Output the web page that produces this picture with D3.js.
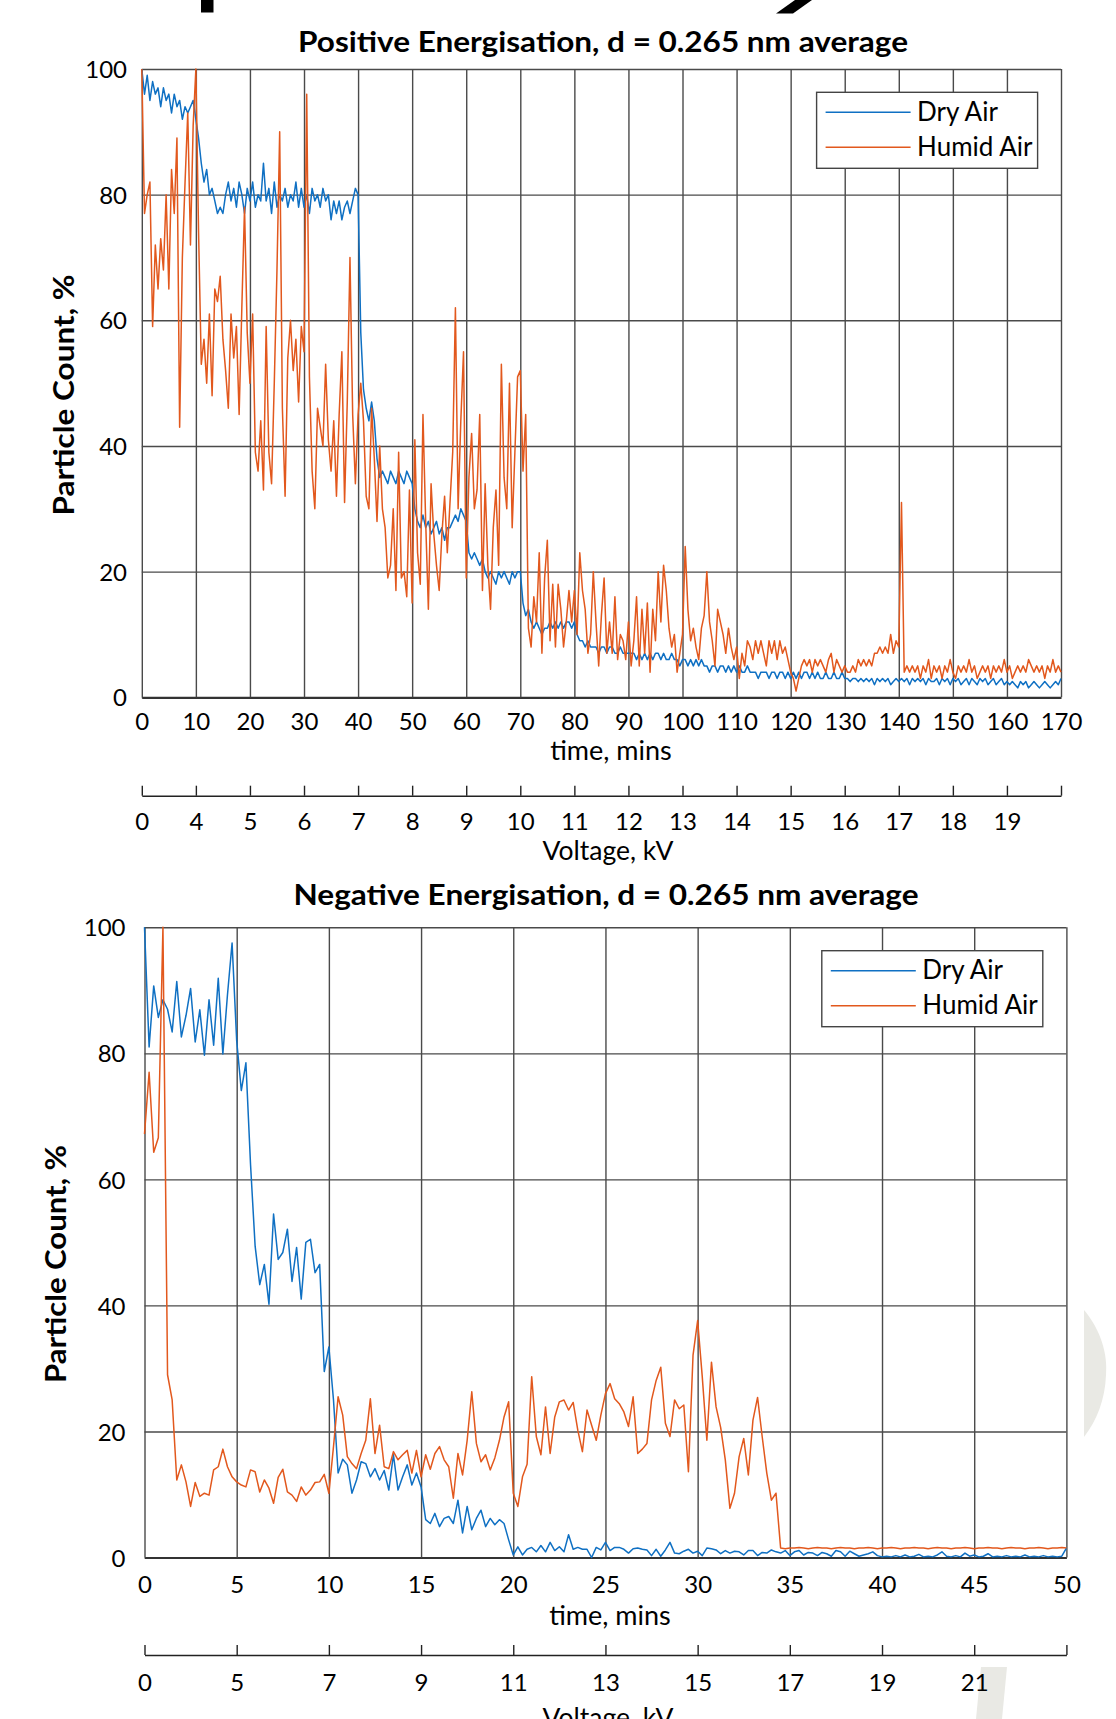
<!DOCTYPE html>
<html>
<head>
<meta charset="utf-8">
<script src="https://cdn.jsdelivr.net/npm/d3@7"></script>
<style>
  body { margin: 0; background: #fff; }
  svg text { font-family: Lato, "Open Sans", sans-serif; fill: #000; }
</style>
</head>
<body>
<svg id="vis" width="1116" height="1719"></svg>
<script>
// ---- data ----
// positive energisation, one sample every 0.5 min from 0 to 170
const posStep = 0.5
const posDry = [
  100, 96, 99, 95, 98, 96, 97, 94, 97, 95, 96, 93, 96, 94, 95, 92, 94, 93, 94, 95,
  92, 89, 85, 82, 84, 80, 81, 79, 77, 78, 77, 80, 82, 79, 81, 78, 82, 80, 77, 81,
  79, 82, 78, 80, 79, 85, 79, 81, 77, 82, 78, 80, 79, 81, 78, 80, 79, 82, 78, 81,
  78, 80, 77, 81, 79, 80, 78, 81, 79, 80, 76, 79, 77, 79, 76, 78, 79, 77, 79, 81,
  80, 58, 49, 46, 44, 47, 44, 38, 35, 36, 35, 34, 36, 35, 34, 36, 35, 34, 36, 35,
  34, 30, 28, 27, 29, 27, 28, 26, 27, 28, 26, 27, 25, 27, 27, 28, 29, 28, 30, 29,
  28, 23, 22, 23, 22, 21, 22, 20, 19, 20, 19, 18, 20, 19, 20, 19, 18, 20, 19, 20,
  20, 15, 13, 14, 12, 11, 12, 11, 10, 11, 11, 12, 11, 12, 11, 12, 11, 12, 12, 11,
  12, 10, 9, 9, 8, 9, 8, 8, 8, 7, 8, 8, 7, 8, 8, 7, 7, 8, 7, 7,
  7, 7, 7, 6, 7, 6, 7, 6, 7, 6, 7, 7, 6, 7, 6, 6, 7, 6, 6, 5,
  6, 6, 5, 6, 5, 6, 5, 6, 5, 5, 4, 5, 5, 4, 5, 5, 4, 5, 4, 5,
  4, 5, 4, 4, 5, 4, 4, 4, 3, 4, 4, 4, 3, 4, 4, 3, 4, 4, 3, 4,
  3, 4, 3, 4, 3, 4, 4, 3, 4, 3, 4, 3, 3, 4, 3, 3, 4, 3, 3, 4,
  3, 3, 2.5, 3, 3, 2.5, 3, 2.5, 3, 2.5, 3, 2, 3, 2.5, 3, 2.5, 3, 2, 2.5, 3,
  2.5, 3, 2.5, 3, 2, 3, 2.5, 3, 2.5, 3, 2, 3, 2.5, 2.5, 3, 2, 3, 2.5, 3, 2,
  3, 2.5, 3, 2, 2.5, 3, 2, 3, 2.5, 2, 3, 2.5, 3, 2, 2.5, 3, 2, 2.5, 3, 2,
  2.5, 2, 2.5, 2, 1.5, 2.5, 2, 2.5, 1.5, 2, 2.5, 2, 1.5, 2, 2.5, 2, 1.5, 2, 2.5, 2,
  3
]
const posHumid = [
  100, 77, 80, 82, 59, 72, 65, 73, 68, 80, 65, 84, 77, 89, 43, 70, 82, 93, 72, 91,
  100, 74, 53, 57, 50, 61, 48, 65, 63, 67, 57, 52, 46, 61, 54, 59, 45, 62, 78, 58,
  50, 61, 39, 36, 44, 33, 59, 39, 34, 50, 68, 90, 46, 32, 54, 60, 52, 57, 47, 59,
  55, 96, 51, 36, 30, 46, 43, 40, 53, 41, 36, 44, 32, 45, 55, 31, 47, 70, 45, 34,
  45, 50, 44, 32, 30, 46, 38, 28, 40, 30, 27, 19, 21, 30, 17, 39, 19, 20, 16, 33,
  15, 41, 23, 18, 45, 28, 14, 34, 26, 21, 17, 26, 32, 23, 31, 39, 62, 30, 44, 55,
  19, 35, 42, 30, 33, 45, 17, 34, 21, 14, 27, 33, 21, 53, 35, 30, 50, 27, 39, 51,
  52, 36, 45, 11, 8, 16, 12, 23, 7, 19, 25, 9, 18, 8, 18, 14, 8, 12, 17, 12,
  17, 10, 23, 17, 14, 7, 10, 20, 12, 5, 13, 19, 7, 12, 7, 16, 6, 10, 9, 6,
  12, 5, 9, 16, 5, 14, 7, 15, 4, 14, 9, 20, 12, 21, 17, 11, 8, 10, 4, 7,
  10, 24, 14, 9, 11, 8, 6, 11, 13, 20, 12, 9, 5, 14, 12, 10, 7, 11, 8, 6,
  8, 3, 7, 5, 9, 8, 6, 9, 7, 9, 7, 5, 9, 7, 9, 6, 9, 7, 8, 6,
  4, 3, 1, 3, 5, 6, 5, 6, 4, 6, 5, 6, 5, 4, 6, 7, 4, 6, 5, 4,
  5, 4, 4, 5, 4, 6, 5, 6, 5, 6, 5, 7, 7, 8, 7, 8, 7, 10, 7, 9,
  8, 31, 4, 5, 4, 5, 4, 5, 3, 5, 4, 6, 3, 5, 4, 5, 3, 5, 4, 6,
  4, 3, 5, 4, 5, 4, 6, 4, 5, 3, 4, 5, 4, 5, 3, 5, 4, 5, 4, 6,
  4, 5, 3, 4, 5, 4, 5, 4, 6, 5, 4, 5, 4, 5, 3, 5, 4, 6, 4, 5,
  4
]

// negative energisation, one sample every 0.25 min from 0 to 50
const negStep = 0.25
const negDry = [
  100, 81, 90.7, 85.7, 88.5, 87, 83.4, 91.4, 82.6, 86, 90.3, 81.8, 86.9, 79.7, 88.5, 81.3, 91.9, 79.9, 89.3, 97.5,
  82, 74.1, 78.5, 62.4, 49.4, 43.3, 46.5, 40.2, 54.5, 47.3, 48.4, 52.1, 43.8, 49.2, 41, 50, 50.5, 45.2, 46.5, 29.5,
  33.4, 25, 13.4, 15.6, 14.7, 10.2, 12.3, 15.2, 14.9, 12.8, 14.1, 12.3, 13.8, 10.7, 16.3, 10.7, 12.8, 14.7, 11.5, 13.4,
  11.2, 6, 5.4, 7, 4.9, 6.2, 6.5, 5.4, 9.1, 3.9, 8.1, 4.4, 6.2, 7.5, 4.9, 6.2, 5.2, 6, 5.4, 2.8,
  0.4, 1.7, 0.4, 1.3, 1.6, 0.9, 1.9, 0.9, 2.4, 1.1, 1.7, 0.9, 3.6, 1.3, 1.6, 1.3, 1.3, 0, 1.6, 1.2,
  2.4, 1.1, 1.6, 1.6, 1.3, 0.7, 1.4, 1.5, 1.3, 1.2, 0.3, 1.3, 0.2, 1.2, 2.4, 0.7, 0.6, 1, 1.3, 0.7,
  1, 0.3, 1.5, 1.4, 1.2, 0.6, 1.1, 0.7, 1, 0.9, 0.4, 1.1, 1.1, 0.3, 0.8, 0.7, 1.2, 0.9, 0.7, 1.1,
  0.3, 0.9, 1.1, 0.4, 0.8, 0.7, 0.3, 0.8, 0.6, 0.2, 1.1, 0.9, 0.2, 1, 0.6, 0.2, 0.4, 0.6, 0.9, 0.3,
  0.1, 0.2, 0.1, 0.3, 0.1, 0.4, 0.1, 0.2, 0.5, 0.1, 0.2, 0.1, 0.4, 0.9, 0.2, 0.1, 0.3, 0.1, 0.7, 0.2,
  0.4, 0.1, 0.2, 0.6, 0.1, 0.2, 0.1, 0.3, 0.1, 0.2, 0.1, 0.4, 0.1, 0.2, 0.1, 0.3, 0.1, 0.2, 0.1, 0.2,
  1.5
]
const negHumid = [
  67.2, 77, 64.3, 66.6, 100, 29, 25, 12.3, 14.7, 12, 8.1, 11.9, 9.7, 10.2, 9.9, 13.9, 14.4, 17.2, 14.4, 12.8,
  12, 11.5, 11.2, 13.9, 13.6, 10.4, 12.3, 11, 8.6, 12.7, 14, 10.4, 9.9, 8.9, 11.2, 9.9, 10.7, 11.9, 12, 13.2,
  10.2, 17.6, 25.5, 22.6, 16, 14.9, 14.1, 16.5, 18.6, 25.2, 16.5, 21, 14.4, 14.1, 16.8, 15.5, 16.3, 17, 13.4, 17,
  12.8, 16.3, 14, 16.5, 17.6, 15.5, 14.4, 9.4, 16.5, 13.1, 18.6, 26.3, 18.1, 15.2, 16.3, 13.9, 15.8, 18.6, 22.3, 24.7,
  10.2, 8.1, 12.8, 14.8, 28.7, 19.2, 16.3, 23.9, 16.5, 22.3, 24.7, 25, 23.4, 24.6, 20.2, 16.8, 23.4, 21, 18.6, 22.6,
  26, 27.6, 25.2, 24.4, 23.1, 20.8, 25.5, 16.5, 17.2, 18.1, 25, 28.1, 30.2, 21.3, 19.2, 25, 23.6, 24.2, 13.6, 32.1,
  37.6, 28.7, 18.6, 31, 23.9, 20.6, 15.5, 7.8, 10.2, 16, 18.9, 13.1, 21.8, 25.4, 19.2, 13.4, 9.1, 10.2, 1.5, 1.4,
  1.5, 1.5, 1.6, 1.5, 1.4, 1.5, 1.6, 1.5, 1.5, 1.4, 1.5, 1.6, 1.5, 1.5, 1.4, 1.5, 1.5, 1.6, 1.5, 1.4,
  1.5, 1.5, 1.6, 1.5, 1.4, 1.5, 1.5, 1.6, 1.5, 1.5, 1.4, 1.5, 1.6, 1.5, 1.5, 1.4, 1.5, 1.5, 1.6, 1.5,
  1.4, 1.5, 1.5, 1.6, 1.5, 1.5, 1.4, 1.5, 1.6, 1.5, 1.5, 1.4, 1.5, 1.5, 1.6, 1.5, 1.4, 1.5, 1.5, 1.6,
  1.5
]

// axes
const yTicks = [0, 20, 40, 60, 80, 100]
const posTimeTicks = [0, 10, 20, 30, 40, 50, 60, 70, 80, 90, 100, 110, 120, 130, 140, 150, 160, 170]
const posVoltLabels = ['0', '4', '5', '6', '7', '8', '9', '10', '11', '12', '13', '14', '15', '16', '17', '18', '19']
const negTimeTicks = [0, 5, 10, 15, 20, 25, 30, 35, 40, 45, 50]
const negVoltLabels = ['0', '5', '7', '9', '11', '13', '15', '17', '19', '21']

const seriesNames = ['Dry Air', 'Humid Air']
const colors = ['#0f70c3', '#e2581d']
const gridColor = '#4a4a4a'

const svg = d3.select('#vis')
svg.append('rect').attr('width', 1116).attr('height', 1719).attr('fill', '#fff')

// bits of the slide behind the charts
svg.append('rect').attr('x', 201).attr('y', 0).attr('width', 12.5).attr('height', 12.5).attr('fill', '#000')
svg.append('path').attr('d', 'M795,0 L812,0 L793,13.5 L776,13.5 Z').attr('fill', '#000')
svg.append('path').attr('d', 'M1084,1310 C1101,1330 1108,1355 1106,1375 C1105,1400 1097,1420 1084,1437 Z').attr('fill', '#e9e9e4')
svg.append('path').attr('d', 'M981,1667 L1007,1667 L1002,1719 L976,1719 Z').attr('fill', '#e9e9e4')

const panels = [
  {
    title: 'Positive Energisation, d = 0.265 nm average', titleX: 603, titleY: 52, titleLen: 610,
    left: 141.8, right: 1061, top: 69, bottom: 697.3, xMax: 170,
    timeTicks: posTimeTicks, voltLabels: posVoltLabels,
    yLabelRight: 127, tickBase: 730, xTitleX: 611, xTitleY: 760,
    voltY: 795.7, voltBase: 830, voltTitleX: 608, voltTitleY: 860,
    yTitleX: 74, yTitleY: 395, yTitleLen: 241,
    legend: { x: 816.6, y: 92.3, w: 221, h: 76 },
    step: posStep, series: [posDry, posHumid]
  },
  {
    title: 'Negative Energisation, d = 0.265 nm average', titleX: 606, titleY: 905, titleLen: 625,
    left: 144.5, right: 1066.4, top: 927.3, bottom: 1557.5, xMax: 50,
    timeTicks: negTimeTicks, voltLabels: negVoltLabels,
    yLabelRight: 125.5, tickBase: 1593, xTitleX: 610, xTitleY: 1625,
    voltY: 1655, voltBase: 1691, voltTitleX: 608, voltTitleY: 1727,
    yTitleX: 66, yTitleY: 1264, yTitleLen: 238,
    legend: { x: 821.8, y: 950.7, w: 221, h: 76 },
    step: negStep, series: [negDry, negHumid]
  }
]

function drawPanel(p) {
  const x = d3.scaleLinear().domain([0, p.xMax]).range([p.left, p.right])
  const y = d3.scaleLinear().domain([0, 100]).range([p.bottom, p.top])
  const g = svg.append('g')

  // horizontal gridlines + value labels
  const yAxis = g.append('g')
    .attr('transform', `translate(${p.left},0)`)
    .call(d3.axisLeft(y).tickValues(yTicks).tickSize(-(p.right - p.left)).tickSizeOuter(0))
  yAxis.select('.domain').remove()
  yAxis.selectAll('line').attr('stroke', gridColor).attr('stroke-width', 1.4)
  yAxis.selectAll('text')
    .attr('x', p.yLabelRight - p.left).attr('dy', '0.36em')
    .attr('font-size', 24).attr('fill', '#000')

  // vertical gridlines + time labels
  const xAxis = g.append('g')
    .attr('transform', `translate(0,${p.bottom})`)
    .call(d3.axisBottom(x).tickValues(p.timeTicks).tickSize(-(p.bottom - p.top)).tickSizeOuter(0))
  xAxis.select('.domain').attr('stroke', '#333').attr('stroke-width', 2.2)
  xAxis.selectAll('line').attr('stroke', gridColor).attr('stroke-width', 1.4)
  xAxis.selectAll('text')
    .attr('y', p.tickBase - p.bottom).attr('dy', 0)
    .attr('font-size', 24).attr('fill', '#000')

  // series
  const line = d3.line()
    .x((d, i) => x(i * p.step))
    .y(d => y(d))
  p.series.forEach((values, k) => {
    g.append('path')
      .datum(values)
      .attr('fill', 'none')
      .attr('stroke', colors[k])
      .attr('stroke-width', 1.5)
      .attr('stroke-linejoin', 'round')
      .attr('d', line)
  })

  // legend
  const lg = g.append('g').attr('transform', `translate(${p.legend.x},${p.legend.y})`)
  lg.append('rect')
    .attr('width', p.legend.w).attr('height', p.legend.h)
    .attr('fill', '#fff').attr('stroke', '#444').attr('stroke-width', 1.4)
  seriesNames.forEach((name, k) => {
    const ly = 20 + k * 35
    lg.append('line')
      .attr('x1', 9).attr('x2', 94).attr('y1', ly).attr('y2', ly)
      .attr('stroke', colors[k]).attr('stroke-width', 1.6)
    lg.append('text')
      .attr('x', 100.5).attr('y', ly + 8.8)
      .attr('font-size', 26)
      .text(name)
  })

  // secondary voltage scale under the time axis
  const vAxis = g.append('g')
    .attr('transform', `translate(0,${p.voltY})`)
    .call(d3.axisBottom(x).tickValues(p.timeTicks).tickSize(-10).tickSizeOuter(0)
      .tickFormat((d, i) => p.voltLabels[i] || ''))
  vAxis.select('.domain').attr('stroke', '#222').attr('stroke-width', 1.6)
  vAxis.selectAll('line').attr('stroke', '#222').attr('stroke-width', 1.4)
  vAxis.selectAll('text')
    .attr('y', p.voltBase - p.voltY).attr('dy', 0)
    .attr('font-size', 24).attr('fill', '#000')

  // titles
  g.append('text')
    .attr('x', p.titleX).attr('y', p.titleY)
    .attr('text-anchor', 'middle').attr('font-size', 29).attr('font-weight', 'bold')
    .attr('textLength', p.titleLen).attr('lengthAdjust', 'spacingAndGlyphs')
    .text(p.title)
  g.append('text')
    .attr('x', p.xTitleX).attr('y', p.xTitleY)
    .attr('text-anchor', 'middle').attr('font-size', 27)
    .text('time, mins')
  g.append('text')
    .attr('x', p.voltTitleX).attr('y', p.voltTitleY)
    .attr('text-anchor', 'middle').attr('font-size', 26.5)
    .text('Voltage, kV')
  g.append('text')
    .attr('transform', `translate(${p.yTitleX},${p.yTitleY}) rotate(-90)`)
    .attr('text-anchor', 'middle').attr('font-size', 28).attr('font-weight', 'bold')
    .attr('textLength', p.yTitleLen).attr('lengthAdjust', 'spacingAndGlyphs')
    .text('Particle Count, %')
}

panels.forEach(drawPanel)
</script>
</body>
</html>
